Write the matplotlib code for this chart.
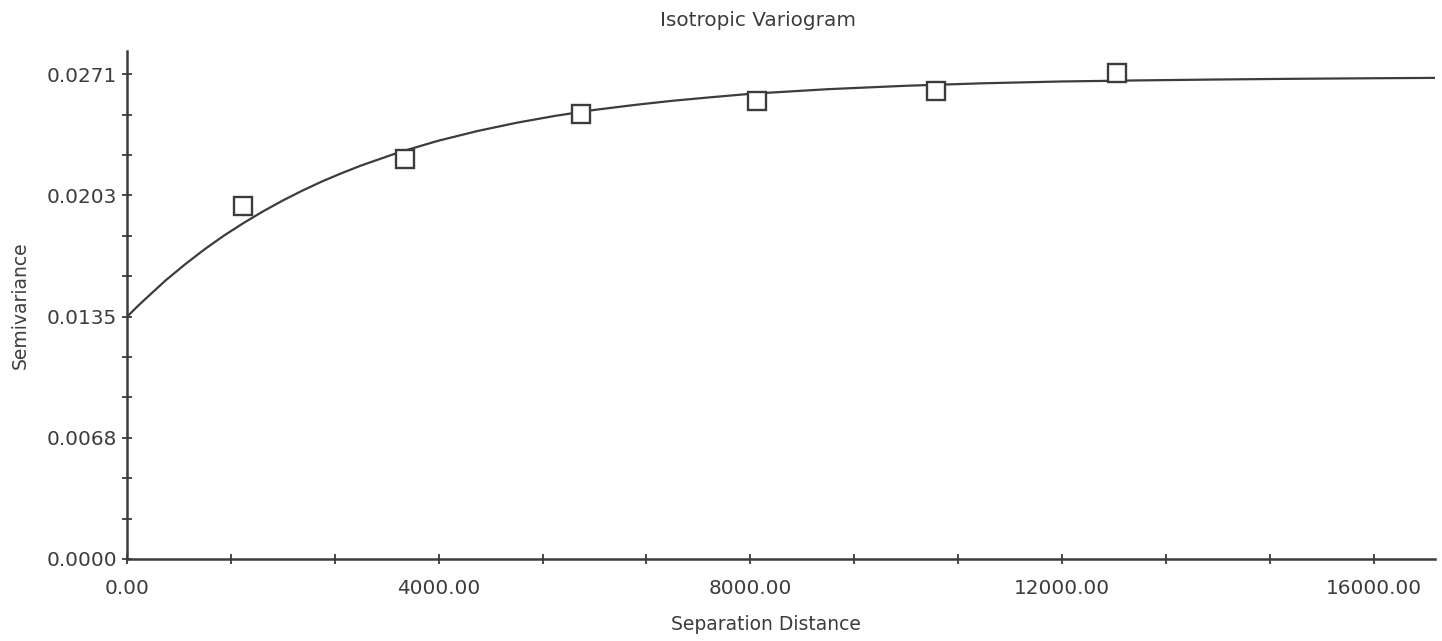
import matplotlib
matplotlib.use("Agg")
import matplotlib.pyplot as plt
from matplotlib.ticker import MultipleLocator, FixedLocator, FixedFormatter, FormatStrFormatter

# Experimental variogram points (lag distance, semivariance)
lag_distance = [1496, 3566, 5824, 8089, 10377, 12699]
semivariance = [0.01975, 0.02238, 0.02488, 0.02562, 0.02618, 0.02719]

# Fitted model curve
model_distance = [0, 125, 250, 500, 750, 1000, 1250, 1500, 1750, 2000, 2250, 2500,
                  2750, 3000, 3500, 4000, 4500, 5000, 5500, 6000, 6500, 7000, 7500,
                  8000, 9000, 10000, 11000, 12000, 13000, 14000, 15000, 16000, 16780]
model_semivariance = [0.01352, 0.01407, 0.01458, 0.01558, 0.01648, 0.01732, 0.01809,
                      0.01879, 0.01944, 0.02004, 0.02059, 0.02110, 0.02156, 0.02199,
                      0.02275, 0.02339, 0.02393, 0.02439, 0.02478, 0.02511, 0.02538,
                      0.02562, 0.02582, 0.02601, 0.02627, 0.02646, 0.02660, 0.02670,
                      0.02676, 0.02681, 0.02685, 0.02688, 0.02690]

y_tick_values = [0.0, 0.006775, 0.01355, 0.020325, 0.0271]
y_tick_labels = ["0.0000", "0.0068", "0.0135", "0.0203", "0.0271"]

title = "Isotropic Variogram"
x_label = "Separation Distance"
y_label = "Semivariance"

W, H = 1442, 641
fig = plt.figure(figsize=(W / 100, H / 100), dpi=100)
fig.patch.set_facecolor("white")

ink = "#3c3c3c"
plt.rcParams["font.family"] = ["DejaVu Sans"]

ax = fig.add_axes([126.7 / W, (H - 559) / H, (1435 - 126.7) / W, (559 - 50.7) / H])
ax.set_xlim(0, 16780)
ax.set_ylim(0, 0.02842)

ax.plot(model_distance, model_semivariance, color=ink, lw=1.6, zorder=2)
ax.plot(lag_distance, semivariance, linestyle="none", marker="s", markersize=12.5,
        markerfacecolor="white", markeredgecolor=ink, markeredgewidth=1.7, zorder=3)

for s in ["top", "right"]:
    ax.spines[s].set_visible(False)
for s in ["left", "bottom"]:
    ax.spines[s].set_color(ink)
    ax.spines[s].set_linewidth(1.8)

ax.xaxis.set_major_locator(MultipleLocator(4000))
ax.xaxis.set_minor_locator(MultipleLocator(4000 / 3))
ax.xaxis.set_major_formatter(FormatStrFormatter("%.2f"))
ax.yaxis.set_major_locator(FixedLocator(y_tick_values))
ax.yaxis.set_major_formatter(FixedFormatter(y_tick_labels))
ax.yaxis.set_minor_locator(MultipleLocator(0.0271 / 12))

ax.tick_params(axis="both", which="both", direction="inout", length=6.5, width=1.3,
               color=ink, labelcolor=ink, labelsize=14.4)
ax.tick_params(axis="x", which="major", pad=11)
ax.tick_params(axis="y", which="major", pad=3.5)

fig.text(758 / W, 1 - 20 / H, title, ha="center", va="center", fontsize=14.4, color=ink)
fig.text(766 / W, 1 - 625 / H, x_label, ha="center", va="center", fontsize=13.5, color=ink)
fig.text(20 / W, 1 - 305 / H, y_label, ha="center", va="center", rotation=90,
         fontsize=13.5, color=ink)

fig.savefig("out.png", dpi=100)
